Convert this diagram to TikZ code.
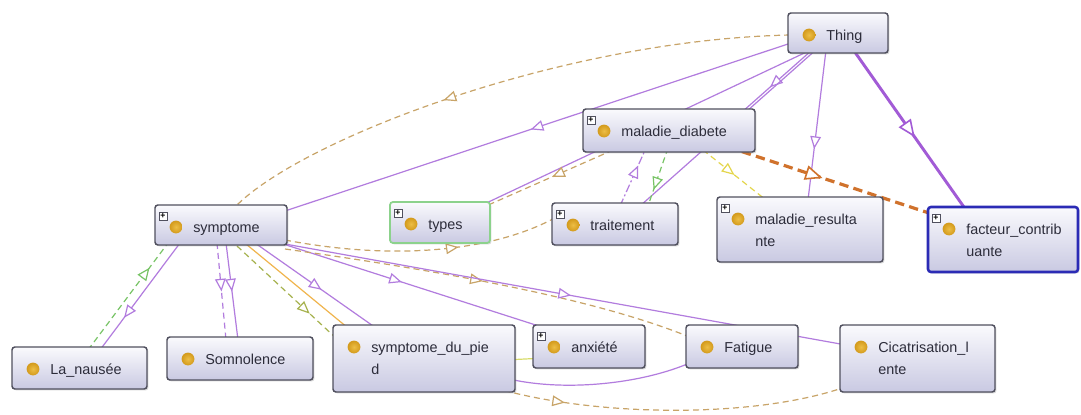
\documentclass[tikz,border=0pt]{standalone}
\usepackage{fontspec}
\setmainfont{Liberation Sans}
\usetikzlibrary{arrows.meta,decorations.markings,calc,shadows,backgrounds}

\definecolor{isa}{HTML}{B27CDE}
\definecolor{isabold}{HTML}{A25BD6}
\definecolor{proptan}{HTML}{C8A468}
\definecolor{propgreen}{HTML}{78C466}
\definecolor{propyellow}{HTML}{E4D64C}
\definecolor{proporange}{HTML}{D0722C}
\definecolor{propolive}{HTML}{A6B24E}
\definecolor{lineamber}{HTML}{F0B44C}
\definecolor{lineyellow}{HTML}{D8DC6A}
\definecolor{boxedge}{HTML}{50505E}
\definecolor{boxtop}{HTML}{FAFAFD}
\definecolor{boxbot}{HTML}{C9C9E2}
\definecolor{dotouter}{HTML}{D39A1C}
\definecolor{dotinner}{HTML}{EDBE45}
\definecolor{labelink}{HTML}{2C2C3A}
\definecolor{selgreen}{HTML}{8CD28C}
\definecolor{selblue}{HTML}{2B2BB5}

\tikzset{
  classbox/.style={rectangle, rounded corners=2.2pt, draw=boxedge, line width=1.1pt,
    top color=boxtop, bottom color=boxbot, inner sep=0pt, outer sep=0pt,
    drop shadow={shadow xshift=1.1pt, shadow yshift=-1.1pt, opacity=0.3}},
  classdot/.style={circle, inner sep=0pt, minimum size=9.6pt, inner color=dotinner, outer color=dotouter},
  classlbl/.style={anchor=base west, inner sep=0pt, text=labelink, font=\fontsize{10.8}{13}\selectfont},
  plusbox/.style={rectangle, draw=boxedge, line width=0.4pt, fill=white, minimum size=6pt,
    inner sep=0pt, font=\fontsize{6.5}{6.5}\selectfont\bfseries},
  link/.style={line width=0.9pt},
  isaedge/.style={link, draw=isa},
  propdash/.style={link, dash pattern=on 4.5pt off 3pt},
  midtip/.style={postaction={decorate, decoration={markings, mark=at position #1 with
    {\arrow{Triangle[length=9.5pt,width=8pt,fill=white,line width=0.9pt]}}}}},
  midtip/.default=0.5,
  bigtip/.style={postaction={decorate, decoration={markings, mark=at position #1 with
    {\arrow{Triangle[length=13pt,width=11pt,fill=white,line width=1.2pt]}}}}},
  bigtip/.default=0.5,
}

% class box: name, left, top, right, bottom (pixel grid), extra style
\newcommand\classnode[6]{%
  \node[classbox,#6,minimum width={(#4-#2)*0.75pt},minimum height={(#5-#3)*0.75pt}]
    (#1) at ({(#2+#4)/2},{(#3+#5)/2}) {};
  \node[classdot] (#1-dot) at ($(#1.north west)+(21,22)$) {};}
\newcommand\classplus[1]{\node[plusbox] (#1-plus) at ($(#1.north west)+(8,11)$) {+};}
\newcommand\classname[4]{\node[classlbl] (#2) at ($(#1.north west)+(38,#3)$) {#4};}

\begin{document}
\begin{tikzpicture}[x=0.75pt,y=-0.75pt]
\useasboundingbox (0,0) rectangle (1081,414);

% classes
\classnode{thing}{788}{13}{888}{53}{}
\classname{thing}{thing-lbl}{27}{Thing}

\classnode{diab}{583}{109}{755}{152}{}
\classplus{diab}
\classname{diab}{diab-lbl}{27}{maladie\_diabete}

\classnode{sym}{155}{205}{287}{245}{}
\classplus{sym}
\classname{sym}{sym-lbl}{27}{symptome}

\classnode{types}{390}{202}{490}{243}{draw=selgreen, line width=1.3pt}
\classplus{types}
\classname{types}{types-lbl}{27}{types}

\classnode{trait}{552}{203}{678}{245}{}
\classplus{trait}
\classname{trait}{trait-lbl}{27}{traitement}

\classnode{mres}{717}{197}{883}{262}{}
\classplus{mres}
\classname{mres}{mres-lbl}{27}{maladie\_resulta}
\classname{mres}{mres-lbl2}{49}{nte}

\classnode{fact}{928}{207}{1078}{272}{draw=selblue, line width=1.9pt}
\classplus{fact}
\classname{fact}{fact-lbl}{27}{facteur\_contrib}
\classname{fact}{fact-lbl2}{49}{uante}

\classnode{naus}{12}{347}{147}{389}{}
\classname{naus}{naus-lbl}{27}{La\_nausée}

\classnode{somn}{167}{337}{313}{380}{}
\classname{somn}{somn-lbl}{27}{Somnolence}

\classnode{pied}{333}{325}{515}{392}{}
\classname{pied}{pied-lbl}{27}{symptome\_du\_pie}
\classname{pied}{pied-lbl2}{49}{d}

\classnode{anx}{533}{325}{645}{368}{}
\classplus{anx}
\classname{anx}{anx-lbl}{27}{anxiété}

\classnode{fat}{686}{325}{798}{368}{}
\classname{fat}{fat-lbl}{27}{Fatigue}

\classnode{cic}{840}{325}{995}{392}{}
\classname{cic}{cic-lbl}{27}{Cicatrisation\_l}
\classname{cic}{cic-lbl2}{49}{ente}

% links, drawn beneath the boxes
\begin{scope}[on background layer]
\fill[white] (0,0) rectangle (1081,414);

% subclass links from Thing
\draw[isaedge, midtip=0.52] ($(thing.north west)+(12,27)$) -- ($(sym.north west)+(127,7)$);
\draw[isaedge, midtip=0.6] ($(thing.north west)+(24,37)$) -- ($(diab.north west)+(159,3)$);
\draw[isaedge, midtip] ($(thing.north west)+(27,35)$) -- ($(types.north west)+(90,4)$);
\draw[isaedge, midtip] ($(thing.north west)+(30,35)$) -- ($(trait.north west)+(88,3)$);
\draw[isaedge, midtip=0.66] ($(thing.north west)+(38,37)$) -- ($(mres.north west)+(91,3)$);
\draw[link, draw=isabold, line width=2.2pt, bigtip=0.55] ($(thing.north west)+(64,35)$) -- ($(fact.north west)+(38,3)$);

% property links around maladie_diabete
\draw[link, draw=proporange, line width=2.4pt, dash pattern=on 7pt off 4pt, bigtip=0.45]
  ($(diab.north west)+(145,38)$) -- ($(fact.north west)+(10,9)$);
\draw[propdash, draw=propyellow, midtip] ($(diab.north west)+(120,41)$) -- ($(mres.north west)+(49,3)$);
\draw[propdash, draw=isa, dash pattern=on 6pt off 2pt on 1.5pt off 2pt, midtip=0.7]
  ($(trait.north west)+(68,3)$) -- ($(diab.north west)+(63,39)$);
\draw[propdash, draw=propgreen, midtip=0.72] ($(diab.north west)+(85,39)$) -- ($(trait.north west)+(96,3)$);
\draw[propdash, draw=proptan, midtip=0.48] ($(diab.north west)+(30,41)$) -- ($(types.north west)+(96,4)$);
\draw[propdash, draw=proptan, midtip=0.6]
  ($(thing.north west)+(2,22)$) .. controls (560,40) and (300,140) .. ($(sym.north west)+(80,2)$);

% links from symptome
\draw[isaedge, midtip=0.7] ($(sym.north west)+(25,38)$) -- ($(naus.north west)+(88,3)$);
\draw[propdash, draw=propgreen, midtip=0.77] ($(naus.north west)+(76,3)$) -- ($(sym.north west)+(13,38)$);
\draw[propdash, draw=isa, midtip] ($(sym.north west)+(62,38)$) -- ($(somn.north west)+(59,3)$);
\draw[isaedge, midtip] ($(sym.north west)+(71,38)$) -- ($(somn.north west)+(71,3)$);
\draw[link, draw=lineamber] ($(sym.north west)+(91,39)$) -- ($(pied.north west)+(15,3)$);
\draw[isaedge, midtip=0.55] ($(sym.north west)+(100,38)$) -- ($(pied.north west)+(43,3)$);
\draw[propdash, draw=propolive, midtip=0.72] ($(sym.north west)+(82,41)$) -- ($(pied.north west)+(5,15)$);
\draw[isaedge, midtip=0.46] ($(sym.north west)+(125,38)$) -- ($(anx.north west)+(12,3)$);
\draw[propdash, draw=proptan, midtip=0.62]
  ($(sym.north west)+(130,35)$) .. controls (400,262) and (500,250) .. ($(trait.north west)+(8,12)$);
\draw[propdash, draw=proptan, midtip=0.48]
  ($(sym.north west)+(130,44)$) .. controls (450,272) and (600,300) .. ($(fat.north west)+(6,13)$);
\draw[isaedge, midtip=0.51] ($(sym.north west)+(130,39)$) -- ($(cic.north west)+(6,20)$);

% links along the bottom row
\draw[isaedge] ($(pied.north west)+(172,53)$) .. controls (560,392) and (640,385) .. ($(fat.north west)+(6,37)$);
\draw[link, draw=lineyellow] ($(pied.north west)+(172,35)$) -- ($(anx.north west)+(12,33)$);
\draw[propdash, draw=proptan, midtip=0.2]
  ($(pied.north west)+(162,63)$) .. controls (600,418) and (760,418) .. ($(cic.north west)+(8,61)$);
\end{scope}
\end{tikzpicture}
\end{document}
